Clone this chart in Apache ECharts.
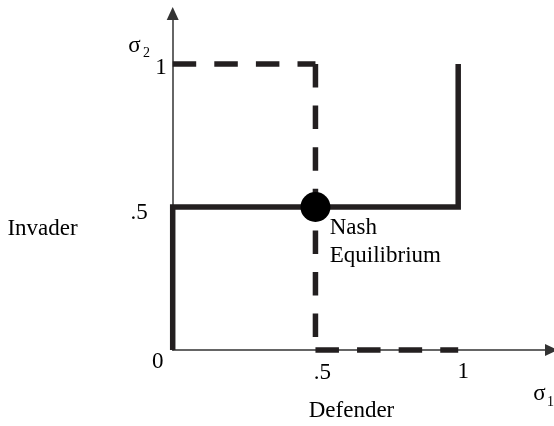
<!DOCTYPE html>
<html>
<head>
<meta charset="utf-8">
<script src="https://cdn.jsdelivr.net/npm/echarts@6/dist/echarts.min.js"></script>
<style>
html,body{margin:0;padding:0;background:#fff;}
#chart{width:554px;height:426px;}
</style>
</head>
<body>
<div id="chart"></div>
<script>
// ---- data ----
const xTickValues = [0, 0.5, 1];
const xTickLabels = ['0', '.5', '1'];
const yTickValues = [0.5, 1];
const yTickLabels = ['.5', '1'];

// Invader best response (solid)
const solidX = [0, 0, 1, 1];
const solidY = [0, 0.5, 0.5, 1];

// Defender best response (dashed), three pieces
const dashTopX = [0, 0.5];
const dashTopY = [1, 1];
const dashMidX = [0.5, 0.5];
const dashMidY = [1, 0];
const dashBotX = [0.5, 1];
const dashBotY = [0, 0];

const nashX = [0.5];
const nashY = [0.5];
const nashLabel = 'Nash\nEquilibrium';

const xAxisName = 'Defender';
const yAxisName = 'Invader';

// ---- build ----
const pairs = (xs, ys) => xs.map((x, i) => [x, ys[i]]);
const FONT = 'Liberation Serif';
const FS = 23;
const INK = '#231f20';

const chart = echarts.init(document.getElementById('chart'), null, {renderer: 'canvas'});

const dashLine = (xs, ys) => ({
  type: 'line',
  data: pairs(xs, ys),
  symbol: 'none',
  clip: false,
  z: 3,
  lineStyle: {color: INK, width: 5.5, type: [23.5, 18.1], cap: 'butt', opacity: 1},
  emphasis: {disabled: true}
});

const xRich = {
  p0: {fontFamily: FONT, fontSize: FS, color: '#000', padding: [0, 30, 0, 0]},
  p1: {fontFamily: FONT, fontSize: FS, color: '#000', padding: [11, 0, 0, 14]},
  p2: {fontFamily: FONT, fontSize: FS, color: '#000', padding: [10, 0, 0, 10]}
};
const yRich = {
  p0: {fontFamily: FONT, fontSize: FS, color: '#000', padding: [12, 19, 0, 0]},
  p1: {fontFamily: FONT, fontSize: FS, color: '#000', padding: [8, 0, 0, 0]}
};

const txt = (x, y, text, size) => ({
  type: 'text', x: x, y: y,
  style: {text: text, font: size + 'px "Liberation Serif"', fill: '#000', align: 'center', verticalAlign: 'middle'}
});

const option = {
  animation: false,
  backgroundColor: '#fff',
  grid: {left: 172.7, right: 2.5, top: 13.5, bottom: 76, containLabel: false, outerBoundsMode: 'none'},
  xAxis: {
    type: 'value', min: 0, max: 1.3268, interval: 0.5,
    splitLine: {show: false}, axisTick: {show: false},
    axisLine: {show: true, onZero: false, lineStyle: {color: '#333', width: 1.5},
      symbol: ['none', 'triangle'], symbolSize: [12, 13]},
    axisLabel: {
      showMaxLabel: false, showMinLabel: true, margin: 0,
      formatter: function (v) {
        const i = xTickValues.indexOf(v);
        return i < 0 ? '' : '{p' + i + '|' + xTickLabels[i] + '}';
      },
      rich: xRich
    }
  },
  yAxis: {
    type: 'value', min: 0, max: 1.1766, interval: 0.5,
    splitLine: {show: false}, axisTick: {show: false},
    axisLine: {show: true, onZero: false, lineStyle: {color: '#333', width: 1.5},
      symbol: ['none', 'triangle'], symbolSize: [12, 13]},
    axisLabel: {
      showMaxLabel: false, margin: 6,
      formatter: function (v) {
        const i = yTickValues.indexOf(v);
        return i < 0 ? '' : '{p' + i + '|' + yTickLabels[i] + '}';
      },
      rich: yRich
    }
  },
  series: [
    {
      type: 'line', data: pairs(solidX, solidY), symbol: 'none', clip: false, z: 4,
      lineStyle: {color: INK, width: 5.5, join: 'miter', cap: 'butt', opacity: 1},
      emphasis: {disabled: true}
    },
    dashLine(dashTopX, dashTopY),
    dashLine(dashMidX, dashMidY),
    dashLine(dashBotX, dashBotY),
    {
      type: 'scatter', data: pairs(nashX, nashY), symbol: 'circle', symbolSize: 30, z: 6,
      itemStyle: {color: '#000', opacity: 1},
      label: {
        show: true, formatter: nashLabel, position: [29.3, 22.4],
        fontFamily: FONT, fontSize: FS, lineHeight: 28, color: '#000', align: 'left', verticalAlign: 'top'
      },
      emphasis: {disabled: true}
    }
  ],
  graphic: [
    txt(42.5, 229, yAxisName, FS),
    txt(351.5, 411, xAxisName, FS),
    txt(134.5, 46, 'σ', 23),
    txt(146.5, 53.5, '2', 14),
    txt(539.5, 394, 'σ', 23),
    txt(550.5, 402.5, '1', 14)
  ]
};
chart.setOption(option);
</script>
</body>
</html>
